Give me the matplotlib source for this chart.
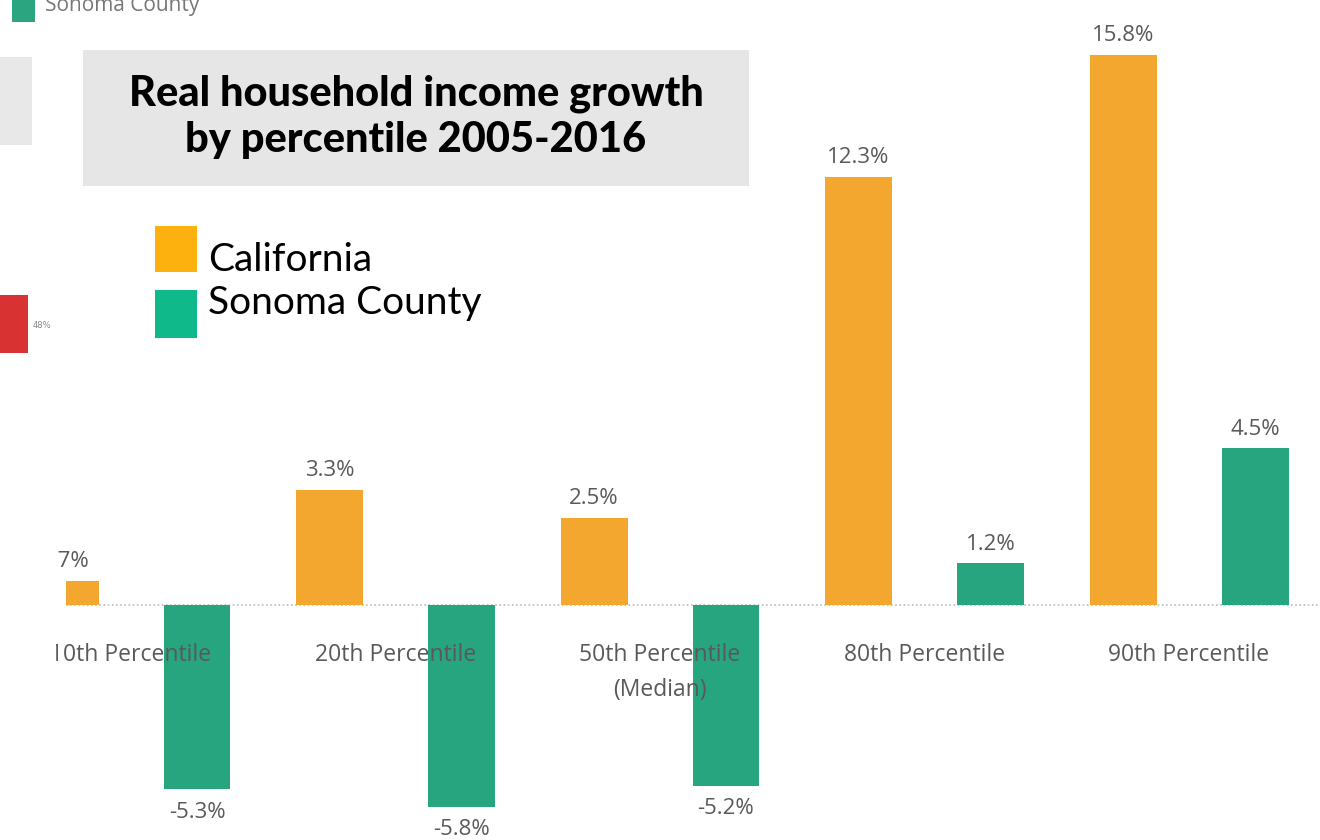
import matplotlib.pyplot as plt
from matplotlib.patches import Rectangle

# data
percentiles = ['10th Percentile', '20th Percentile', '50th Percentile\n(Median)',
               '80th Percentile', '90th Percentile']
california = [0.7, 3.3, 2.5, 12.3, 15.8]
sonoma = [-5.3, -5.8, -5.2, 1.2, 4.5]

ca_color = '#F3A72F'
so_color = '#26A57E'
txt_gray = '#595959'

fig = plt.figure(figsize=(13.2, 8.4), dpi=100)
W, H = 1320, 840

# axes from pixel 66 to the right edge, full height
ax = fig.add_axes([66 / W, 0, (W - 66) / W, 1])
px_per_unit = 264.5
first_center = 131  # pixel of the first group's centre
ax.set_xlim((66 - first_center) / px_per_unit, (W - first_center) / px_per_unit)
px_per_pct = 34.8
ax.set_ylim(-(H - 605) / px_per_pct, 605 / px_per_pct)
ax.axis('off')

xs = list(range(len(percentiles)))
off = 66 / px_per_unit
bw = 67 / px_per_unit
ax.bar([x - off for x in xs], california, width=bw, color=ca_color, zorder=2)
ax.bar([x + off for x in xs], sonoma, width=bw, color=so_color, zorder=2)
ax.axhline(0, color='#bbbbbb', linestyle=(0, (1, 1.5)), linewidth=1.2, zorder=1)

lab_font = dict(family='Open Sans', fontsize=16, color=txt_gray)
for x, v in zip(xs, california):
    ax.text(x - off, v + 0.25, f'{v}%', ha='center', va='bottom', clip_on=False, **lab_font)
for x, v in zip(xs, sonoma):
    if v >= 0:
        ax.text(x + off, v + 0.25, f'{v}%', ha='center', va='bottom', clip_on=False, **lab_font)
    else:
        ax.text(x + off, v - 0.35, f'{v}%', ha='center', va='top', clip_on=False, **lab_font)

for x, name in zip(xs, percentiles):
    ax.text(x, -1.1, name, ha='center', va='top', family='Open Sans',
            fontsize=16.5, color=txt_gray, linespacing=1.6, zorder=5, clip_on=False)

# white strip where the screenshot was cut
fig.patches.append(Rectangle((0, 0), 56 / W, 1, transform=fig.transFigure,
                             facecolor='white', edgecolor='none', zorder=10))

# leftovers of the neighbouring chart
fig.patches.append(Rectangle((12 / W, 1 - 22 / H), 23 / W, 22 / H, transform=fig.transFigure,
                             facecolor='#2BA57F', edgecolor='none', zorder=11))
fig.text(45 / W, 1 - 6 / H, 'Sonoma County', fontsize=15, color='#777777',
         family='Open Sans', va='center', ha='left', zorder=12)
fig.patches.append(Rectangle((0, 1 - 145 / H), 32 / W, 88 / H, transform=fig.transFigure,
                             facecolor='#e8e8e8', edgecolor='none', zorder=11))
fig.patches.append(Rectangle((0, 1 - 353 / H), 28 / W, 58 / H, transform=fig.transFigure,
                             facecolor='#D93232', edgecolor='none', zorder=11))
fig.text(33 / W, 1 - 325 / H, '48%', fontsize=6, color='#888888', va='center', zorder=12)

# title box
fig.patches.append(Rectangle((83 / W, 1 - 186 / H), 666 / W, 136 / H, transform=fig.transFigure,
                             facecolor='#e6e6e6', edgecolor='none', zorder=11))
fig.text(416 / W, 1 - 117 / H, 'Real household income growth\nby percentile 2005-2016',
         ha='center', va='center', fontsize=30, fontweight='black', family='Lato',
         color='black', linespacing=1.25, zorder=12)

# legend
fig.patches.append(Rectangle((155 / W, 1 - 272 / H), 42 / W, 46 / H, transform=fig.transFigure,
                             facecolor='#FDB10F', edgecolor='none', zorder=11))
fig.patches.append(Rectangle((155 / W, 1 - 338 / H), 42 / W, 48 / H, transform=fig.transFigure,
                             facecolor='#10B98A', edgecolor='none', zorder=11))
fig.text(208 / W, 1 - 260 / H, 'California', fontsize=28, family='Lato', va='center', zorder=12)
fig.text(208 / W, 1 - 303 / H, 'Sonoma County', fontsize=28, family='Lato', va='center', zorder=12)

fig.savefig('out.png', dpi=100)
